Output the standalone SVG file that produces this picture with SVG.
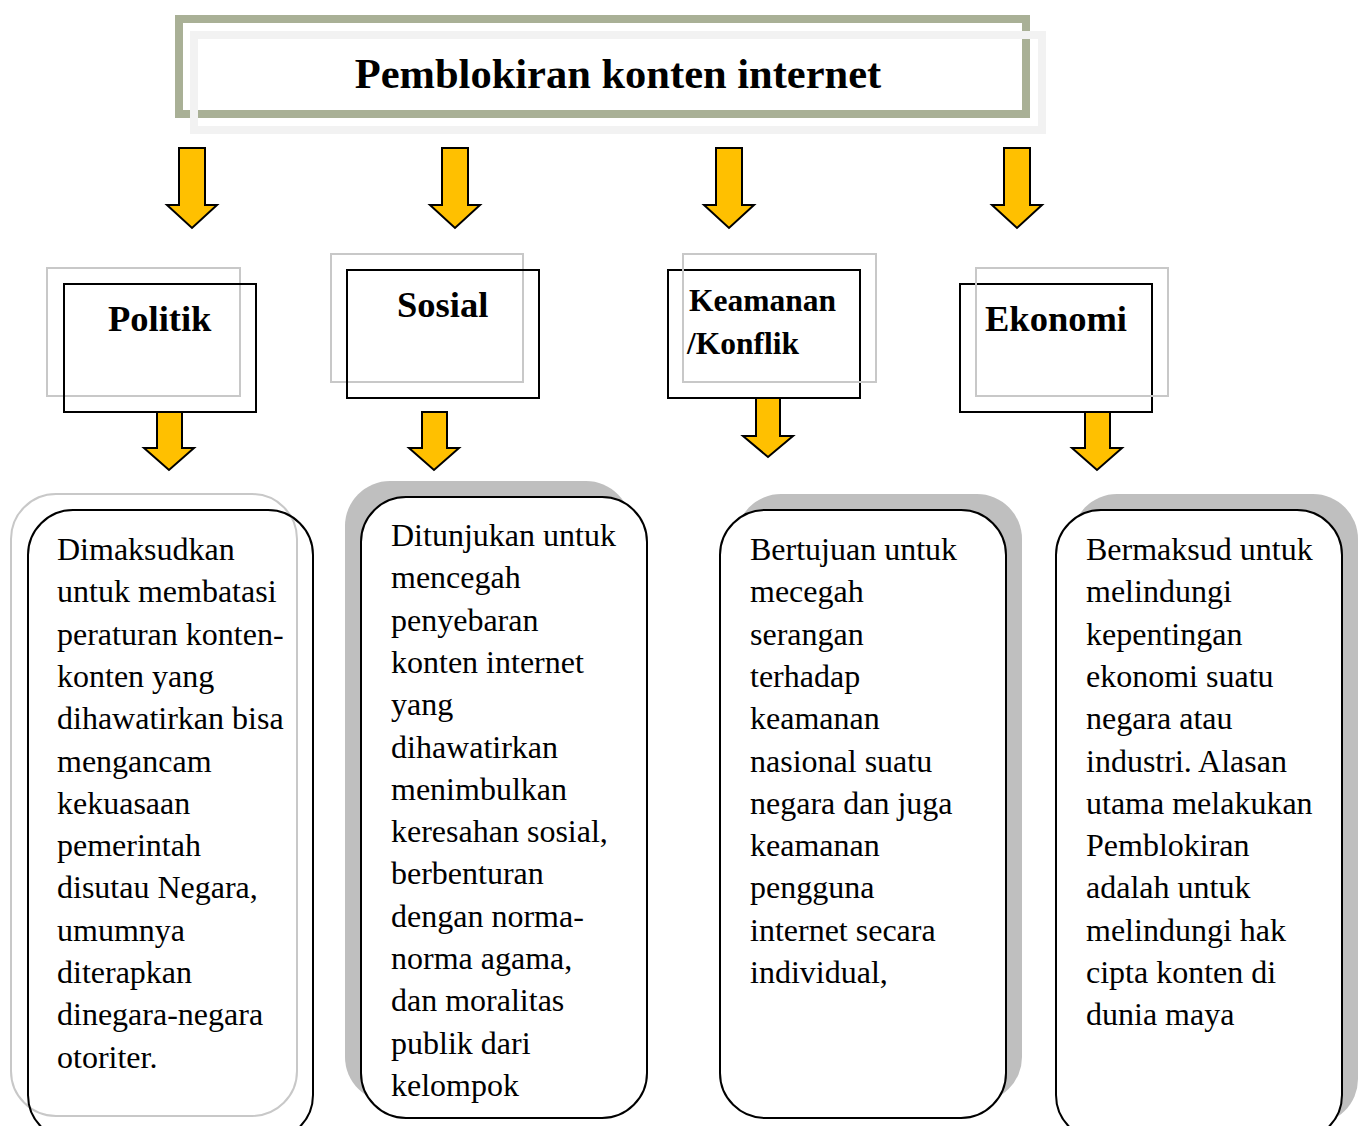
<svg xmlns="http://www.w3.org/2000/svg" width="1360" height="1126" viewBox="0 0 1360 1126">
<style>
.arrow{fill:#FFC000;stroke:#000;stroke-width:2;stroke-linejoin:miter}
.cat{fill:none;stroke:#000;stroke-width:2}
.catg{fill:none;stroke:#C8C8C8;stroke-width:2}
.box{fill:#fff;stroke:#000;stroke-width:2}
.shadow{fill:#BFBFBF;stroke:none}
.ghost{fill:none;stroke:#C8C8C8;stroke-width:2}
.h{font-family:"Liberation Serif","Times New Roman",serif;font-weight:bold;fill:#000}
.t{font-family:"Liberation Serif","Times New Roman",serif;font-size:32px;fill:#000}
</style>
<rect width="1360" height="1126" fill="#fff"/>
<g id="title">
<rect x="179" y="19" width="847" height="95" fill="#fff" stroke="#A9B096" stroke-width="8"/>
<rect x="194" y="35" width="848" height="95" fill="none" stroke="#F2F2F2" stroke-width="8"/>
<text class="h" x="618" y="88" font-size="42.5" text-anchor="middle">Pemblokiran konten internet</text>
</g>
<g id="connectors">
<path class="arrow" d="M179,148 H205 V205 H217 L192,228 L167,205 H179 Z"/>
<path class="arrow" d="M442,148 H468 V205 H480 L455,228 L430,205 H442 Z"/>
<path class="arrow" d="M716,148 H742 V205 H754 L729,228 L704,205 H716 Z"/>
<path class="arrow" d="M1004,148 H1030 V205 H1042 L1017,228 L992,205 H1004 Z"/>
<path class="arrow" d="M157,412 H182 V448 H194 L169,470 L144,448 H157 Z"/>
<path class="arrow" d="M422,412 H447 V448 H459 L434,470 L409,448 H422 Z"/>
<path class="arrow" d="M756,398 H780 V436 H793 L768,457 L743,436 H756 Z"/>
<path class="arrow" d="M1085,412 H1110 V448 H1122 L1097,470 L1072,448 H1085 Z"/>
</g>
<g id="politik">
<rect class="catg" x="47" y="268" width="193" height="128"/>
<rect class="cat" x="64" y="284" width="192" height="128"/>
<text class="h" x="108" y="331" font-size="36.5">Politik</text>
</g>
<g id="sosial">
<rect class="catg" x="331" y="254" width="192" height="128"/>
<rect class="cat" x="347" y="270" width="192" height="128"/>
<text class="h" x="397" y="317" font-size="36.5">Sosial</text>
</g>
<g id="keamanan">
<rect class="cat" x="668" y="270" width="192" height="128"/>
<rect class="catg" x="683" y="254" width="193" height="128"/>
<text class="h" x="689" y="311" font-size="31.5">Keamanan</text>
<text class="h" x="687" y="354" font-size="31.5">/Konflik</text>
</g>
<g id="ekonomi">
<rect class="cat" x="960" y="284" width="192" height="128"/>
<rect class="catg" x="976" y="268" width="192" height="128"/>
<text class="h" x="985" y="331" font-size="36.5">Ekonomi</text>
</g>
<g id="desc-politik">
<rect class="ghost" x="11" y="494" width="286" height="622" rx="45"/>
<rect x="28" y="510" width="285" height="630" rx="45" fill="none" stroke="#000" stroke-width="2"/>
<text class="t" x="57" y="560">
<tspan x="57">Dimaksudkan</tspan>
<tspan x="57" dy="42.3">untuk membatasi</tspan>
<tspan x="57" dy="42.3">peraturan konten-</tspan>
<tspan x="57" dy="42.3">konten yang</tspan>
<tspan x="57" dy="42.3">dihawatirkan bisa</tspan>
<tspan x="57" dy="42.3">mengancam</tspan>
<tspan x="57" dy="42.3">kekuasaan</tspan>
<tspan x="57" dy="42.3">pemerintah</tspan>
<tspan x="57" dy="42.3">disutau Negara,</tspan>
<tspan x="57" dy="42.3">umumnya</tspan>
<tspan x="57" dy="42.3">diterapkan</tspan>
<tspan x="57" dy="42.3">dinegara-negara</tspan>
<tspan x="57" dy="42.3">otoriter.</tspan>
</text>
</g>
<g id="desc-sosial">
<rect class="shadow" x="345" y="481" width="286" height="621" rx="45"/>
<rect class="box" x="361" y="497" width="286" height="621" rx="45"/>
<text class="t" x="391" y="546">
<tspan x="391">Ditunjukan untuk</tspan>
<tspan x="391" dy="42.3">mencegah</tspan>
<tspan x="391" dy="42.3">penyebaran</tspan>
<tspan x="391" dy="42.3">konten internet</tspan>
<tspan x="391" dy="42.3">yang</tspan>
<tspan x="391" dy="42.3">dihawatirkan</tspan>
<tspan x="391" dy="42.3">menimbulkan</tspan>
<tspan x="391" dy="42.3">keresahan sosial,</tspan>
<tspan x="391" dy="42.3">berbenturan</tspan>
<tspan x="391" dy="42.3">dengan norma-</tspan>
<tspan x="391" dy="42.3">norma agama,</tspan>
<tspan x="391" dy="42.3">dan moralitas</tspan>
<tspan x="391" dy="42.3">publik dari</tspan>
<tspan x="391" dy="42.3">kelompok</tspan>
</text>
</g>
<g id="desc-keamanan">
<rect class="shadow" x="736" y="494" width="286" height="608" rx="45"/>
<rect class="box" x="720" y="510" width="286" height="608" rx="45"/>
<text class="t" x="750" y="560">
<tspan x="750">Bertujuan untuk</tspan>
<tspan x="750" dy="42.3">mecegah</tspan>
<tspan x="750" dy="42.3">serangan</tspan>
<tspan x="750" dy="42.3">terhadap</tspan>
<tspan x="750" dy="42.3">keamanan</tspan>
<tspan x="750" dy="42.3">nasional suatu</tspan>
<tspan x="750" dy="42.3">negara dan juga</tspan>
<tspan x="750" dy="42.3">keamanan</tspan>
<tspan x="750" dy="42.3">pengguna</tspan>
<tspan x="750" dy="42.3">internet secara</tspan>
<tspan x="750" dy="42.3">individual,</tspan>
</text>
</g>
<g id="desc-ekonomi">
<rect class="shadow" x="1072" y="494" width="286" height="630" rx="45"/>
<rect class="box" x="1056" y="510" width="286" height="630" rx="45"/>
<text class="t" x="1086" y="560">
<tspan x="1086">Bermaksud untuk</tspan>
<tspan x="1086" dy="42.3">melindungi</tspan>
<tspan x="1086" dy="42.3">kepentingan</tspan>
<tspan x="1086" dy="42.3">ekonomi suatu</tspan>
<tspan x="1086" dy="42.3">negara atau</tspan>
<tspan x="1086" dy="42.3">industri. Alasan</tspan>
<tspan x="1086" dy="42.3">utama melakukan</tspan>
<tspan x="1086" dy="42.3">Pemblokiran</tspan>
<tspan x="1086" dy="42.3">adalah untuk</tspan>
<tspan x="1086" dy="42.3">melindungi hak</tspan>
<tspan x="1086" dy="42.3">cipta konten di</tspan>
<tspan x="1086" dy="42.3">dunia maya</tspan>
</text>
</g>
</svg>
